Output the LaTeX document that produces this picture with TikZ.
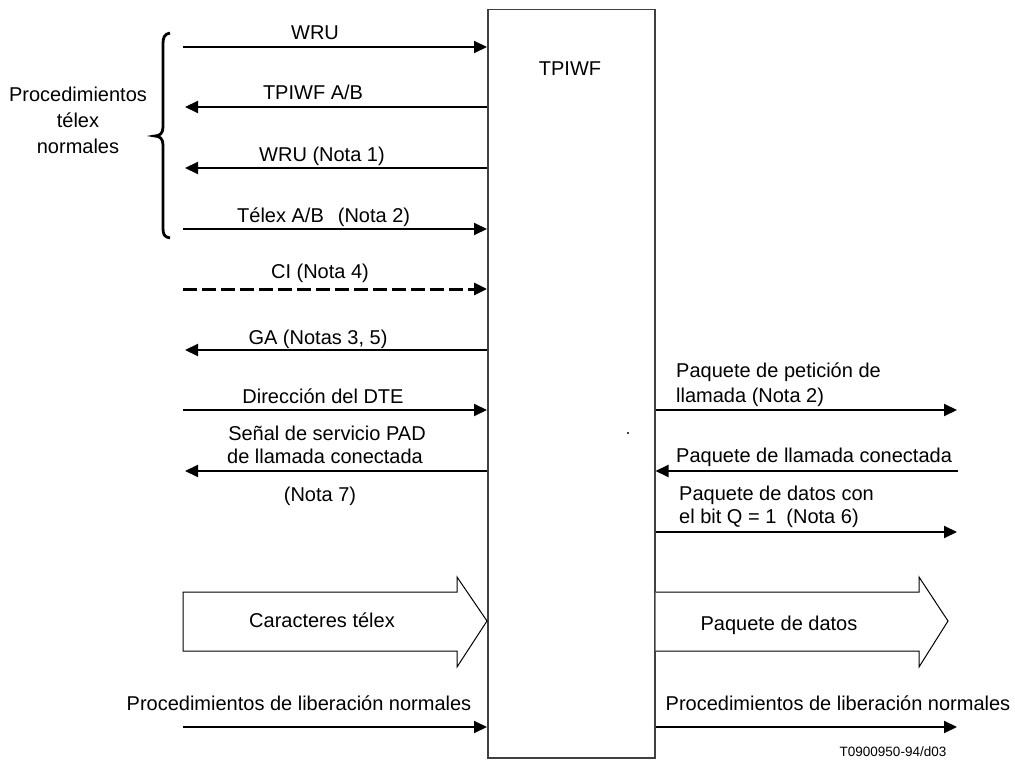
\documentclass[tikz,border=0pt]{standalone}
\usepackage{fontspec}
\setmainfont{Liberation Sans}
\usetikzlibrary{arrows.meta}
\begin{document}
\begin{tikzpicture}[x=1pt,y=-1pt,
  lbl/.style={font=\fontsize{20}{24}\selectfont, inner sep=0pt, anchor=base},
  lblw/.style={lbl, anchor=base west},
  sig/.style={line width=2pt, -{Triangle[length=13pt,width=12pt]}},
  dsig/.style={sig, line width=3pt, dash pattern=on 14pt off 5pt},
  fat/.style={draw, line width=1pt, fill=white, line join=miter},
  blk/.style={draw=black!75, line width=1.5pt, fill=white, inner sep=0pt, anchor=north west}
]
\useasboundingbox (0,0) rectangle (1015,762);

% central block
\node[blk, minimum width=167pt, minimum height=748pt] (tpiwf) at (487,9) {};
\node[lbl] (tname) at (570,76) {TPIWF};

% brace and its label
\draw[line width=2.8pt] (170,33) .. controls (164,34) and (163,38) .. (163,44) -- (163,127)
  .. controls (163,133) and (160,136) .. (155,136)
  .. controls (160,136) and (163,139) .. (163,145) -- (163,228)
  .. controls (163,234) and (164,237) .. (170,238);
\node[lbl] (pt1) at (78,102) {Procedimientos};
\node[lbl] (pt2) at (78,128) {télex};
\node[lbl] (pt3) at (78,154) {normales};

% left side signals
\coordinate (a1) at (183,47);
\draw[sig] (a1) -- (a1 -| tpiwf.west);
\node[lbl] (t1) at (315,40) {WRU};

\coordinate (a2) at (185,107);
\draw[sig] (a2 -| tpiwf.west) -- (a2);
\node[lbl] (t2) at (313,100) {TPIWF A/B};

\coordinate (a3) at (185,168);
\draw[sig] (a3 -| tpiwf.west) -- (a3);
\node[lbl] (t3) at (322,162) {WRU (Nota 1)};

\coordinate (a4) at (183,229);
\draw[sig] (a4) -- (a4 -| tpiwf.west);
\node[lblw] (t4) at (237,223) {Télex A/B\hspace{14pt}(Nota 2)};

\coordinate (a5) at (183,289);
\draw[dsig] (a5) -- (a5 -| tpiwf.west);
\node[lbl] (t5) at (320,278) {CI (Nota 4)};

\coordinate (a6) at (185,350);
\draw[sig] (a6 -| tpiwf.west) -- (a6);
\node[lbl] (t6) at (318,344) {GA (Notas 3, 5)};

\coordinate (a7) at (183,410);
\draw[sig] (a7) -- (a7 -| tpiwf.west);
\node[lbl] (t7) at (323,403) {Dirección del DTE};

\coordinate (a8) at (185,471);
\draw[sig] (a8 -| tpiwf.west) -- (a8);
\node[lbl] (t8a) at (327,440) {Señal de servicio PAD};
\node[lbl] (t8b) at (325,463) {de llamada conectada};
\node[lbl] (t8c) at (320,501) {(Nota 7)};

% right side signals
\coordinate (b1) at (957,410);
\draw[sig] (b1 -| tpiwf.east) -- (b1);
\node[lblw] (r1a) at (676,377) {Paquete de petición de};
\node[lblw] (r1b) at (676,402) {llamada (Nota 2)};

\coordinate (b2) at (958,471);
\draw[sig] (b2) -- (b2 -| tpiwf.east);
\node[lblw] (r2) at (676,462) {Paquete de llamada conectada};

\coordinate (b3) at (957,532);
\draw[sig] (b3 -| tpiwf.east) -- (b3);
\node[lblw] (r3a) at (679,500) {Paquete de datos con};
\node[lblw] (r3b) at (679,523) {el bit Q = 1\hspace{10pt}(Nota 6)};

\fill (628,433) circle (1.1pt);

% wide data arrows
\draw[fat] (183,592) -- (457,592) -- (457,577) -- (tpiwf.west |- 0,621) -- (457,667) -- (457,651) -- (183,651) -- cycle;
\node[lbl] (c1) at (322,627) {Caracteres télex};
\draw[fat] (tpiwf.east |- 0,592) -- (919,592) -- (919,577) -- (948,621) -- (919,667) -- (919,651) -- (tpiwf.east |- 0,651);
\node[lbl] (c2) at (779,630) {Paquete de datos};

% clearing
\coordinate (d1) at (183,727);
\draw[sig] (d1) -- (d1 -| tpiwf.west);
\node[lbl] (e1) at (299,710) {Procedimientos de liberación normales};
\coordinate (d2) at (957,727);
\draw[sig] (d2 -| tpiwf.east) -- (d2);
\node[lbl] (e2) at (838,710) {Procedimientos de liberación normales};

\node[lbl, font=\fontsize{13.5}{16}\selectfont] (ref) at (893,756) {T0900950-94/d03};
\end{tikzpicture}
\end{document}
